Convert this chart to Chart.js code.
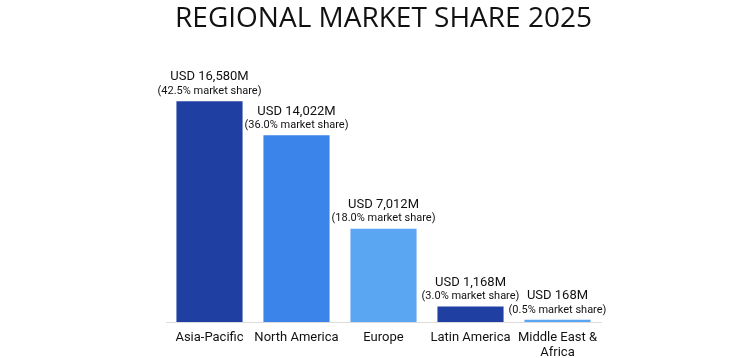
<!DOCTYPE html>
<html>
<head>
<meta charset="utf-8">
<script src="https://cdn.jsdelivr.net/npm/chart.js@4/dist/chart.umd.min.js"></script>
<style>
  html, body { margin: 0; padding: 0; background: #fff; }
  #wrap { width: 752px; height: 358px; }
</style>
</head>
<body>
<div id="wrap"><canvas id="chart_share"></canvas></div>
<script>
var regions = ["Asia-Pacific", "North America", "Europe", "Latin America", ["Middle East &", "Africa"]];
var revenue = [16580, 14022, 7012, 1168, 168];
var shares = [42.5, 36.0, 18.0, 3.0, 0.5];
var barColors = ['#1f3fa3', '#3b84ea', '#5ba6f3', '#1f3fa3', '#5ba6f3'];

// writes the two-line value label above each bar
var barLabels = {
  id: 'barLabels',
  afterDatasetsDraw: function(chart) {
    var ctx = chart.ctx;
    var meta = chart.getDatasetMeta(0);
    ctx.save();
    ctx.textAlign = 'center';
    ctx.textBaseline = 'middle';
    ctx.fillStyle = '#111';
    meta.data.forEach(function(bar, i) {
      ctx.font = '13px Roboto';
      ctx.fillText('USD ' + revenue[i].toLocaleString('en-US') + 'M', bar.x, bar.y - 24);
      ctx.font = '11px Roboto';
      ctx.fillText('(' + shares[i].toFixed(1) + '% market share)', bar.x, bar.y - 10);
    });
    ctx.restore();
  }
};

var shareData = {
  labels: regions,
  datasets: [{
    label: "Market Share",
    data: revenue,
    backgroundColor: barColors,
    borderWidth: 0,
    categoryPercentage: 0.76,
    barPercentage: 1
  }]
};

var chartOptions = {
  responsive: true,
  maintainAspectRatio: false,
  animation: false,
  layout: {
    padding: { left: 166, right: 151, top: 2, bottom: -10 }
  },
  plugins: {
    legend: { display: false },
    tooltip: { enabled: false },
    title: {
      display: true,
      text: 'REGIONAL MARKET SHARE 2025',
      color: '#111',
      font: { family: 'Open Sans', size: 28, weight: 'normal' },
      padding: { top: 0, bottom: 20 }
    }
  },
  scales: {
    x: {
      grid: { display: false, drawTicks: false },
      border: { display: true, color: '#dcdcdc', width: 1 },
      ticks: {
        color: '#111',
        font: { family: 'Roboto', size: 13, lineHeight: 1.15 },
        padding: 8,
        maxRotation: 0,
        autoSkip: false
      }
    },
    y: {
      display: false,
      min: 0,
      max: 20000
    }
  }
};

new Chart(document.getElementById("chart_share"), {
  type: 'bar',
  data: shareData,
  options: chartOptions,
  plugins: [barLabels]
});
</script>
</body>
</html>
